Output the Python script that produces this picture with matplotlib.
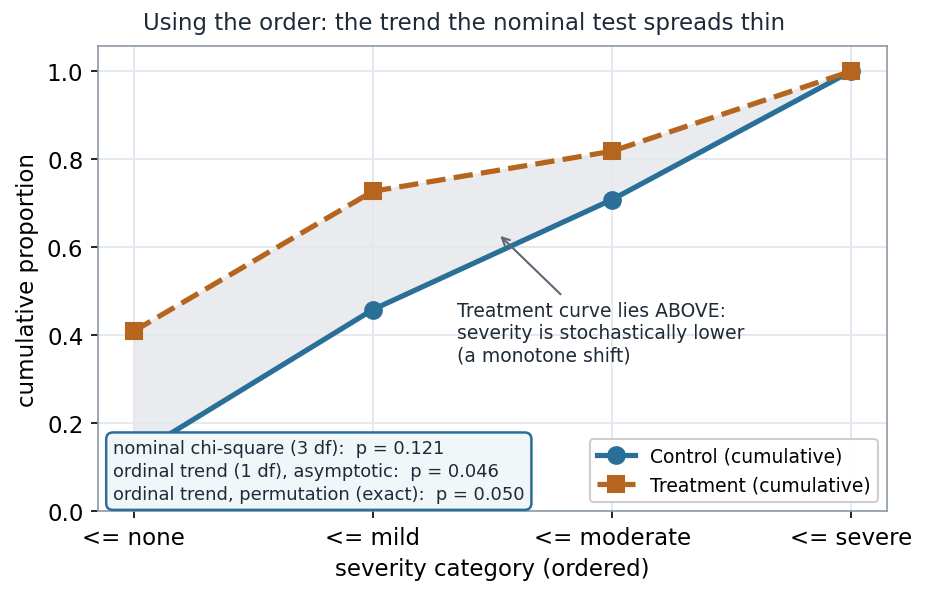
import matplotlib.pyplot as plt
import numpy as np

categories = ['<= none', '<= mild', '<= moderate', '<= severe']
control_cum = [0.125, 0.458, 0.708, 1.0]
treatment_cum = [0.409, 0.727, 0.818, 1.0]
p_text = ('nominal chi-square (3 df):  p = 0.121\n'
          'ordinal trend (1 df), asymptotic:  p = 0.046\n'
          'ordinal trend, permutation (exact):  p = 0.050')

c_ctrl = '#2a6f97'
c_trt = '#b5651d'
dark = '#1f2a38'

fig, ax = plt.subplots(figsize=(6.187, 3.973), dpi=150)
fig.subplots_adjust(left=0.1056, right=0.9558, top=0.921, bottom=0.141)
x = np.arange(len(categories))

ax.fill_between(x, control_cum, treatment_cum, color='#e6e8eb', alpha=0.85, zorder=1)
ax.plot(x, control_cum, '-o', color=c_ctrl, lw=2.5, ms=8, label='Control (cumulative)', zorder=3)
ax.plot(x, treatment_cum, '--s', color=c_trt, lw=2.5, ms=8, label='Treatment (cumulative)', zorder=3)

ax.set_xlim(-0.15, 3.15)
ax.set_ylim(0, 1.057)
ax.set_xticks(x)
ax.set_xticklabels(categories)
ax.set_yticks([0, 0.2, 0.4, 0.6, 0.8, 1.0])
ax.tick_params(labelsize=11)
ax.grid(True, color='#e4e8ee', lw=0.9, zorder=0)
ax.set_axisbelow(True)
for s in ax.spines.values():
    s.set_color('#8c9aa6')

ax.set_xlabel('severity category (ordered)', fontsize=11)
ax.set_ylabel('cumulative proportion', fontsize=11)
fig.suptitle('Using the order: the trend the nominal test spreads thin', color=dark,
             fontsize=11, x=0.5, y=0.961, va='center')

ax.annotate('Treatment curve lies ABOVE:\nseverity is stochastically lower\n(a monotone shift)',
            xy=(1.52, 0.632), xytext=(1.35, 0.405), ha='left', va='center',
            fontsize=9, color=dark,
            arrowprops=dict(arrowstyle='->', color='#5a6775', lw=1.0))

ax.text(0.019, 0.017, p_text, transform=ax.transAxes, ha='left', va='bottom',
        fontsize=8.6, color=dark, linespacing=1.35, zorder=5,
        bbox=dict(boxstyle='round,pad=0.38', fc='#f1f6f9', ec=c_ctrl, lw=1.2))

ax.legend(loc='lower right', fontsize=9, framealpha=0.95)

fig.savefig('out.png', dpi=150)
